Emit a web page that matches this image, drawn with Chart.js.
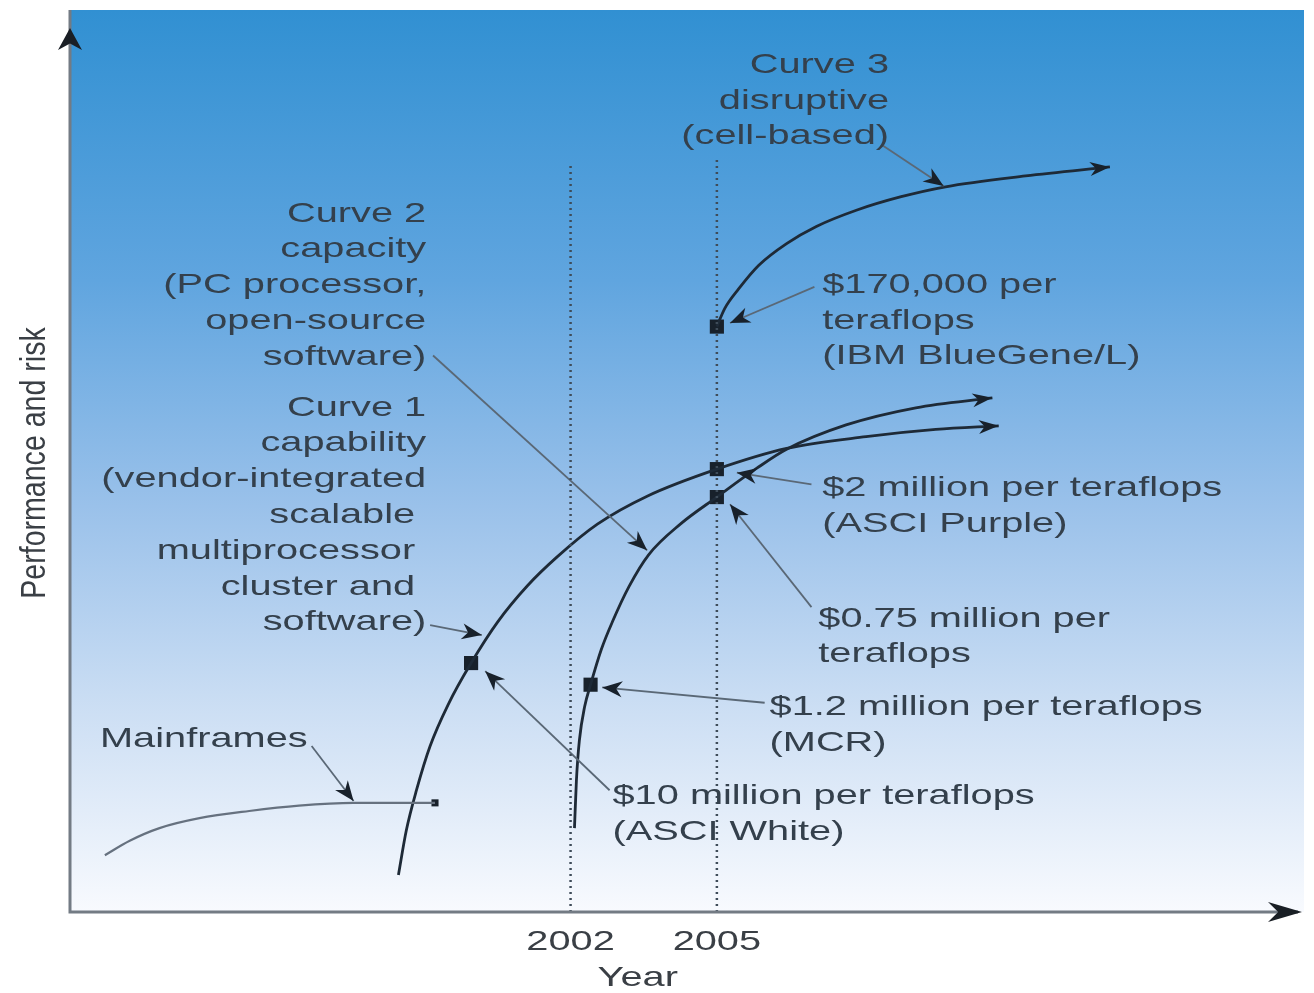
<!DOCTYPE html>
<html>
<head>
<meta charset="utf-8">
<script src="https://cdn.jsdelivr.net/npm/chart.js@4.4.1/dist/chart.umd.min.js"></script>
<style>
  body { margin: 0; background: #fff; }
  canvas { display: block; }
</style>
</head>
<body>
<canvas id="chart_out" width="1314" height="993"></canvas>
<script>
// ---- DATA (x = year, y = performance, no unit on the original) ----
var yearTicks = [2002, 2005];
var guideTop = [82.9, 83.5]; // how high the dotted year lines go

var mainframesYears = [1992.45, 1992.96, 1993.57, 1994.39, 1995.41, 1996.43, 1997.55, 1999.22];
var mainframesPerf = [6.3, 7.9, 9.3, 10.4, 11.2, 11.8, 12.1, 12.1];

var curve1Years = [1998.47, 1998.63, 1998.84, 1999.12, 1999.49, 1999.96, 2000.51, 2001.12, 2001.73, 2002.55, 2003.57, 2005.0, 2006.43, 2008.06, 2009.49, 2010.78];
var curve1Perf = [4.1, 9.0, 13.5, 18.4, 23.0, 27.6, 32.2, 36.2, 39.4, 43.0, 46.1, 49.1, 51.4, 52.7, 53.5, 53.9];

var curve2Years = [2002.08, 2002.12, 2002.18, 2002.29, 2002.41, 2002.63, 2002.86, 2003.2, 2003.6, 2004.25, 2005.0, 2005.82, 2006.43, 2007.65, 2009.08, 2010.65];
var curve2Perf = [9.3, 14.6, 19.0, 22.8, 25.2, 29.1, 32.2, 36.1, 39.6, 43.0, 46.0, 49.2, 51.3, 54.0, 55.9, 57.0];

var curve3Years = [2005.0, 2005.16, 2005.45, 2005.86, 2006.43, 2007.04, 2007.86, 2008.78, 2009.69, 2011.33, 2013.06];
var curve3Perf = [64.9, 66.9, 69.1, 71.7, 74.1, 76.0, 77.8, 79.3, 80.4, 81.6, 82.6];

// systems marked with a square (last one = end dot of the mainframes curve)
var systemNames = ['ASCI White', 'MCR', 'ASCI Purple', '$0.75 million', 'IBM BlueGene/L', 'Mainframes end'];
var systemYears = [1999.96, 2002.41, 2005.0, 2005.0, 2005.0, 1999.22];
var systemPerf = [27.6, 25.2, 49.1, 46.0, 64.9, 12.1];

// callout arrows, label end -> mark
var calloutFromYears = [2008.37, 2007.0, 1999.18, 1999.12, 2006.94, 2006.94, 2005.98, 2002.80, 1996.69];
var calloutFromPerf = [85.1, 69.3, 61.7, 31.8, 47.4, 33.8, 23.2, 13.5, 18.4];
var calloutToYears = [2009.65, 2005.27, 2003.57, 2000.18, 2005.41, 2005.27, 2002.65, 2000.25, 1997.55];
var calloutToPerf = [80.5, 65.3, 40.1, 30.7, 48.7, 45.2, 24.9, 26.7, 12.3];

// ---- LAYOUT / STYLE ----
var STRETCH = 1.42;          // the original lettering is wide
var FONT = '28px "Liberation Sans", Arial, sans-serif';
var LINE_H = 35.8;
var TEXT_COLOR = '#34404c';

var labelBlocks = [
  { lines: ['Curve 3', 'disruptive', '(cell-based)'], x: 2008.53, y: 93.9, align: 'right' },
  { lines: ['Curve 2', 'capacity', '(PC processor,', 'open-source', 'software)'], x: 1999.04, y: 77.4, align: 'right' },
  { lines: ['Curve 1', 'capability', '(vendor-integrated', 'scalable ', 'multiprocessor ', 'cluster and ', 'software)'], x: 1999.04, y: 55.9, align: 'right' },
  { lines: ['$170,000 per', 'teraflops', '(IBM BlueGene/L)'], x: 2007.16, y: 69.5, align: 'left' },
  { lines: ['$2 million per teraflops', '(ASCI Purple)'], x: 2007.16, y: 47.0, align: 'left' },
  { lines: ['$0.75 million per', 'teraflops'], x: 2007.08, y: 32.5, align: 'left' },
  { lines: ['$1.2 million per teraflops', '(MCR)'], x: 2006.08, y: 22.7, align: 'left' },
  { lines: ['$10 million per teraflops', '(ASCI White)'], x: 2002.86, y: 12.8, align: 'left' },
  { lines: ['Mainframes'], x: 1992.35, y: 19.2, align: 'left' }
];

function pts(xs, ys) {
  var out = [];
  for (var i = 0; i < xs.length; i++) out.push({ x: xs[i], y: ys[i] });
  return out;
}

function wideText(ctx, str, x, y, align) {
  ctx.save();
  ctx.translate(x, y);
  ctx.scale(STRETCH, 1);
  ctx.textAlign = align;
  ctx.fillText(str, 0, 0);
  ctx.restore();
}

function arrowHead(ctx, x0, y0, x1, y1, len, half) {
  var a = Math.atan2(y1 - y0, x1 - x0);
  ctx.save();
  ctx.translate(x1, y1);
  ctx.rotate(a);
  ctx.beginPath();
  ctx.moveTo(0, 0);
  ctx.lineTo(-len, -half);
  ctx.lineTo(-len * 0.7, 0);
  ctx.lineTo(-len, half);
  ctx.closePath();
  ctx.fill();
  ctx.restore();
}

var datasets = [];

// dotted year guides
for (var g = 0; g < yearTicks.length; g++) {
  datasets.push({
    data: [{ x: yearTicks[g], y: 0 }, { x: yearTicks[g], y: guideTop[g] }],
    showLine: true, borderColor: '#3f4c59', borderWidth: 2.5, borderDash: [2, 4],
    pointRadius: 0
  });
}

// callout lines
for (var c = 0; c < calloutFromYears.length; c++) {
  datasets.push({
    data: [{ x: calloutFromYears[c], y: calloutFromPerf[c] }, { x: calloutToYears[c], y: calloutToPerf[c] }],
    showLine: true, borderColor: '#5a6876', borderWidth: 1.8, pointRadius: 0,
    arrow: 'callout'
  });
}

datasets.push({
  label: 'Mainframes', data: pts(mainframesYears, mainframesPerf),
  showLine: true, borderColor: '#66717f', borderWidth: 2.2, pointRadius: 0,
  cubicInterpolationMode: 'monotone'
});
datasets.push({
  label: 'Curve 1', data: pts(curve1Years, curve1Perf),
  showLine: true, borderColor: '#1e2a37', borderWidth: 2.8, pointRadius: 0,
  cubicInterpolationMode: 'monotone', arrow: 'curve'
});
datasets.push({
  label: 'Curve 2', data: pts(curve2Years, curve2Perf),
  showLine: true, borderColor: '#1e2a37', borderWidth: 2.8, pointRadius: 0,
  cubicInterpolationMode: 'monotone', arrow: 'curve'
});
datasets.push({
  label: 'Curve 3', data: pts(curve3Years, curve3Perf),
  showLine: true, borderColor: '#1e2a37', borderWidth: 2.8, pointRadius: 0,
  cubicInterpolationMode: 'monotone', arrow: 'curve'
});
datasets.push({
  label: 'Systems', data: pts(systemYears, systemPerf),
  showLine: false, pointStyle: 'rect',
  pointRadius: [10, 10, 10, 10, 10, 5], borderWidth: 0,
  backgroundColor: '#18212b', borderColor: '#18212b'
});

var diagramPlugin = {
  id: 'diagram',
  beforeDraw: function(chart) {
    var ctx = chart.ctx, a = chart.chartArea;
    ctx.save();
    ctx.fillStyle = '#ffffff';
    ctx.fillRect(0, 0, chart.width, chart.height);
    var grad = ctx.createLinearGradient(0, a.top, 0, a.bottom);
    grad.addColorStop(0, '#3190d2');
    grad.addColorStop(0.3, '#60a5df');
    grad.addColorStop(0.55, '#9ac1ea');
    grad.addColorStop(0.78, '#cddff4');
    grad.addColorStop(1, '#f8fafe');
    ctx.fillStyle = grad;
    ctx.fillRect(a.left, a.top, a.right - a.left, a.bottom - a.top);
    ctx.restore();
  },
  afterDatasetsDraw: function(chart) {
    var ctx = chart.ctx, a = chart.chartArea;
    var xs = chart.scales.x, ys = chart.scales.y;
    ctx.save();

    // arrow heads on curves and callouts
    chart.data.datasets.forEach(function(ds, i) {
      if (!ds.arrow) return;
      var pts = chart.getDatasetMeta(i).data;
      var last = pts[pts.length - 1];
      var prev = pts[pts.length - 2];
      var fx = prev.x, fy = prev.y;
      if (last.cp1x !== undefined && ds.arrow === 'curve') { fx = last.cp1x; fy = last.cp1y; }
      ctx.fillStyle = '#18212b';
      if (ds.arrow === 'curve') arrowHead(ctx, fx, fy, last.x, last.y, 20, 7);
      else arrowHead(ctx, fx, fy, last.x, last.y, 20, 8);
    });

    // axes
    ctx.strokeStyle = '#737b84';
    ctx.lineWidth = 3;
    ctx.beginPath();
    ctx.moveTo(a.left, a.top);
    ctx.lineTo(a.left, a.bottom);
    ctx.lineTo(a.right - 6, a.bottom);
    ctx.stroke();
    ctx.fillStyle = '#1a1f25';
    arrowHead(ctx, a.left, a.top + 60, a.left, a.top + 18, 22, 12);
    arrowHead(ctx, a.right - 60, a.bottom, a.right - 2, a.bottom, 34, 10);

    // labels
    ctx.font = FONT;
    ctx.fillStyle = TEXT_COLOR;
    ctx.textBaseline = 'middle';
    labelBlocks.forEach(function(b) {
      var px = xs.getPixelForValue(b.x), py = ys.getPixelForValue(b.y);
      b.lines.forEach(function(t, k) {
        wideText(ctx, t, px, py + k * LINE_H, b.align);
      });
    });

    // tick labels and titles
    ctx.fillStyle = '#3a3f45';
    yearTicks.forEach(function(t) {
      wideText(ctx, String(t), xs.getPixelForValue(t), a.bottom + 30, 'center');
    });
    wideText(ctx, 'Year', (xs.getPixelForValue(yearTicks[0]) + xs.getPixelForValue(yearTicks[1])) / 2 - 6, a.bottom + 66, 'center');

    ctx.save();
    ctx.translate(a.left - 35, (a.top + a.bottom) / 2 + 2);
    ctx.rotate(-Math.PI / 2);
    ctx.scale(1.02, 1.25);
    ctx.textAlign = 'center';
    ctx.fillText('Performance and risk', 0, 0);
    ctx.restore();

    ctx.restore();
  }
};

var chart = new Chart(document.getElementById('chart_out').getContext('2d'), {
  type: 'scatter',
  data: { datasets: datasets },
  options: {
    responsive: false,
    animation: false,
    devicePixelRatio: 1,
    layout: { padding: { left: 70, right: 4, top: 5, bottom: 81 } },
    plugins: { legend: { display: false }, tooltip: { enabled: false } },
    scales: {
      x: { type: 'linear', min: 1991.735, max: 2017.04, display: false },
      y: { type: 'linear', min: 0, max: 100, display: false }
    }
  },
  plugins: [diagramPlugin]
});
</script>
</body>
</html>
